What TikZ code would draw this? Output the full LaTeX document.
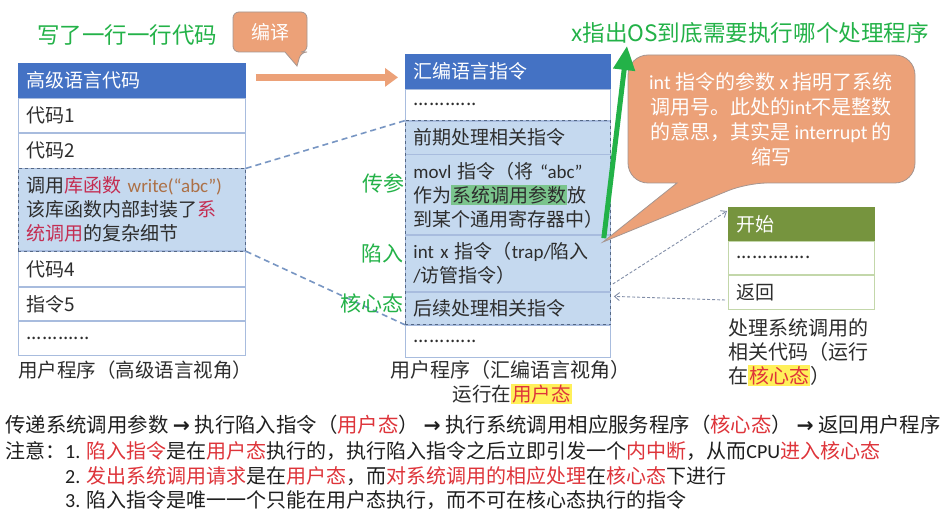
\documentclass[tikz,border=0pt]{standalone}
\usepackage{fontspec}
\setmainfont{Noto Sans CJK SC}
\newfontfamily\enfont{Carlito}
\newfontfamily\arrowfont{DejaVu Sans}
\usetikzlibrary{arrows.meta,fit,calc}

\definecolor{hdrblue}{RGB}{68,114,196}
\definecolor{cellline}{RGB}{168,188,222}
\definecolor{hlfill}{RGB}{197,217,239}
\definecolor{hlframe}{RGB}{84,104,134}
\definecolor{ink}{RGB}{45,45,45}
\definecolor{callor}{RGB}{236,161,120}
\definecolor{callline}{RGB}{165,150,145}
\definecolor{grn}{RGB}{35,178,72}
\definecolor{grnhdr}{RGB}{118,148,62}
\definecolor{grnline}{RGB}{195,215,170}
\definecolor{hotred}{RGB}{222,52,58}
\definecolor{crimson}{RGB}{196,45,82}
\definecolor{wbrown}{RGB}{172,112,70}
\definecolor{hlyellow}{RGB}{255,240,90}
\definecolor{hlgreen}{RGB}{122,196,140}
\definecolor{dashblue}{RGB}{120,150,195}
\definecolor{dotgray}{RGB}{130,142,168}

\setlength{\fboxsep}{1pt}
\newcommand\nextstep{{\arrowfont\bfseries →}}
\newcommand\hot[1]{{\color{hotred}#1}}

\tikzset{
  cell/.style={draw=cellline, line width=0.8pt, fill=white, anchor=north west,
    inner xsep=8pt, inner ysep=0pt, align=left, text=ink,
    font=\fontsize{19}{24}\selectfont},
  hdr/.style={cell, fill=hdrblue, draw=hdrblue, text=white},
  hlcell/.style={cell, fill=hlfill},
  ghdr/.style={cell, fill=grnhdr, draw=grnhdr, text=white},
  gcell/.style={cell, draw=grnline},
  lw/.style={text width=211pt},
  mw/.style={text width=189pt},
  gw/.style={text width=130pt},
  hlbox/.style={draw=hlframe, dashed, line width=0.9pt, inner sep=0pt},
  conn/.style={draw=dashblue, line width=1.6pt, dash pattern=on 6pt off 4pt},
  dotarrow/.style={draw=dotgray, line width=0.9pt, dash pattern=on 3pt off 2pt,
    -{Straight Barb[length=5pt,width=8pt]}},
  capt/.style={inner sep=0pt, text=ink, font=\fontsize{19.5}{24}\selectfont},
  glabel/.style={inner sep=0pt, text=grn, anchor=east, font=\fontsize{21}{24}\selectfont},
  bodyline/.style={inner sep=0pt, anchor=west, text=black!88, font=\fontsize{20}{24}\selectfont},
  bubble/.style={fill=callor, draw=callline, line width=0.8pt},
}

\begin{document}
\begin{tikzpicture}[x=1pt, y=-1pt]
\fill[white] (0,0) rectangle (951,529);
\useasboundingbox (0,0) rectangle (951,529);

% ---- high-level language column ----
\node[hdr, lw, minimum height=34pt] (lh) at (18,63) {高级语言代码};
\node[cell, lw, minimum height=34pt] (l1) at (lh.south west) {代码1};
\node[cell, lw, minimum height=35pt] (l2) at (l1.south west) {代码2};
\node[hlcell, lw, minimum height=82pt] (l3) at (l2.south west)
  {调用{\color{crimson}库函数} {\enfont\color{wbrown}write(“abc”)}\\该库函数内部封装了{\color{crimson}系}\\{\color{crimson}统调用}的复杂细节};
\node[cell, lw, minimum height=35pt] (l4) at (l3.south west) {代码4};
\node[cell, lw, minimum height=33pt] (l5) at (l4.south west) {指令5};
\node[cell, lw, minimum height=34pt] (l6) at (l5.south west) {............};
\node[hlbox, fit=(l3)] (lframe) {};
\node[capt, anchor=west] (lcap) at (18,370) {用户程序（高级语言视角）};

% ---- assembly column ----
\node[hdr, mw, minimum height=34pt] (mh) at (405,54) {汇编语言指令};
\node[cell, mw, minimum height=31pt] (m1) at (mh.south west) {............};
\node[hlcell, mw, minimum height=33pt] (m2) at (m1.south west) {前期处理相关指令};
\node[hlcell, mw, minimum height=80pt] (m3) at (m2.south west)
  {{\enfont movl} 指令（将 {\enfont “abc”}\\作为\colorbox{hlgreen}{系统调用参数}放\\到某个通用寄存器中）};
\node[hlcell, mw, minimum height=56pt] (m4) at (m3.south west)
  {{\enfont int x} 指令（{\enfont trap/}陷入\\{\enfont /}访管指令）};
\node[hlcell, mw, minimum height=32pt] (m5) at (m4.south west) {后续处理相关指令};
\node[cell, mw, minimum height=32pt] (m6) at (m5.south west) {............};
\node[hlbox, fit=(m2)(m5)] (mframe) {};
\node[capt, font=\fontsize{20}{24}\selectfont] (mcap) at (510,370) {用户程序（汇编语言视角）};
\node[capt] (mrun) at (512,394) {运行在\colorbox{hlyellow}{\hot{用户态}}};

% ---- dashed links between the two views ----
\draw[conn] (l3.north east) -- (m2.north west);
\draw[conn] (l3.south east) -- (m5.south west);

% ---- green step labels ----
\node[glabel] (lbpass) at (405,183) {传参};
\node[glabel] (lbtrap) at (404,253) {陷入};
\node[glabel] (lbkern) at (404,303) {核心态};

% ---- handler column ----
\node[ghdr, gw, minimum height=33pt] (gh) at (728,207) {开始};
\node[gcell, gw, minimum height=33pt] (g1) at (gh.south west) {..............};
\node[gcell, gw, minimum height=34pt] (g2) at (g1.south west) {返回};
\node[capt, anchor=north west, align=left, font=\fontsize{20}{24}\selectfont] (gcap) at (728,318)
  {处理系统调用的\\相关代码（运行\\在\colorbox{hlyellow}{\hot{核心态}}）};

\draw[dotarrow] ($(m4.south east)+(2,-8)$) -- ($(gh.north west)+(-1,4)$);
\draw[dotarrow] ($(g2.west)+(-3,8)$) -- ($(m5.east)+(3,-12)$);

% ---- compile bubble and arrow ----
\path[bubble, rounded corners=6pt] (233,32) -- (233,12) -- (307,12) -- (307,52) -- (301,52)
  [sharp corners] -- (297,66) -- (285,52) [rounded corners=6pt] -- (233,52) -- cycle;
\node[inner sep=0pt, text=white, font=\fontsize{19}{24}\selectfont] (compile) at (270,32) {编译};
\draw[callor, line width=7pt, -{Triangle[length=13pt,width=18pt]}]
  ($(lh.east)+(10,-3)$) -- ($(mh.west)+(-7,6)$);

% ---- explanation bubble for int ----
\path[bubble, rounded corners=20pt] (628,120) -- (628,55) -- (915,55) -- (915,183) -- (747,183)
  [sharp corners] -- (603,242) -- (677,183) [rounded corners=20pt] -- (628,183) -- cycle;
\node[inner sep=0pt, text=white, align=center, font=\fontsize{20}{25}\selectfont] (note) at (771,119)
  {{\enfont int} 指令的参数 {\enfont x} 指明了系统\\调用号。此处的{\enfont int}不是整数\\的意思，其实是 {\enfont interrupt} 的\\缩写};

% ---- titles ----
\node[inner sep=0pt, anchor=west, text=grn, font=\fontsize{22.5}{26}\selectfont] (ttl) at (37,35) {写了一行一行代码};
\node[inner sep=0pt, anchor=west, text=grn, font=\fontsize{22.6}{26}\selectfont] (xttl) at (571,33) {x指出OS到底需要执行哪个处理程序};
\coordinate (gtip) at (627,46);
\draw[grn, line width=5pt, -{Triangle[length=24pt,width=21pt]}] ($(m4.north east)+(-7,3)$) -- (gtip);

% ---- summary lines ----
\node[bodyline, font=\fontsize{20.4}{24}\selectfont] (b1) at (5,425) {传递系统调用参数 \nextstep{} 执行陷入指令（\hot{用户态}） \nextstep{} 执行系统调用相应服务程序（\hot{核心态}） \nextstep{} 返回用户程序};
\node[bodyline] (b2) at (5,451) {注意：{\enfont 1.} \hot{陷入指令}是在\hot{用户态}执行的，执行陷入指令之后立即引发一个\hot{内中断}，从而{\enfont CPU}\hot{进入核心态}};
\node[bodyline] (b3) at (65,476) {{\enfont 2.} \hot{发出系统调用请求}是在\hot{用户态}，而\hot{对系统调用的相应处理}在\hot{核心态}下进行};
\node[bodyline] (b4) at (65,500) {{\enfont 3.} 陷入指令是唯一一个只能在用户态执行，而不可在核心态执行的指令};
\end{tikzpicture}
\end{document}
